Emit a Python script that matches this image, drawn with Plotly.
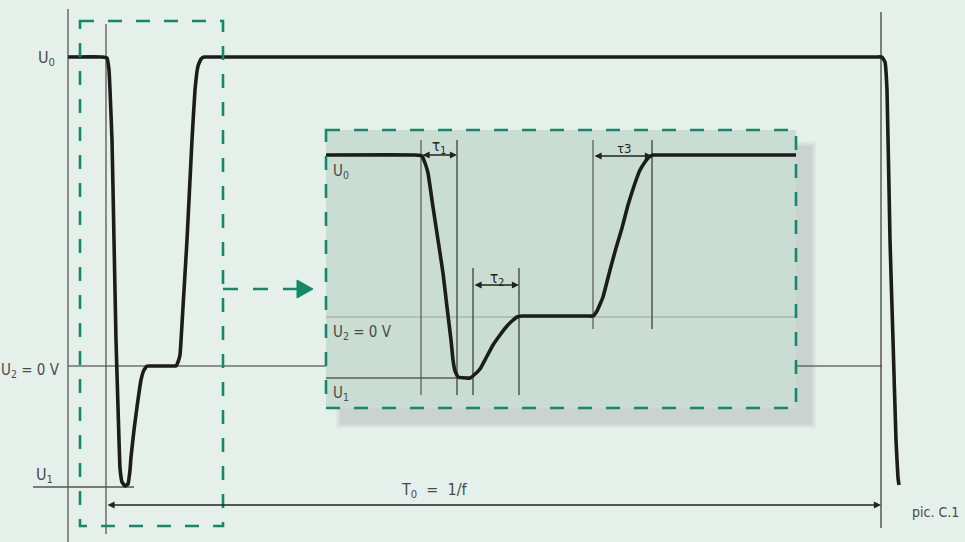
import plotly.graph_objects as go

# ---------------- data (diagram units = pixels of the 965x542 canvas) ----------------
main_x = [68, 102, 107, 109, 110, 112, 114, 116, 118, 119, 120, 122, 125, 128, 130, 131, 134,
          137, 141, 144, 147, 152, 171, 176, 178, 180, 183, 187, 192, 195, 198, 201, 204, 210,
          876, 882, 885, 887, 890, 893, 896, 898, 899]
main_y = [57, 57, 58, 70, 90, 140, 240, 340, 407, 440, 468, 482, 486, 484, 470, 457, 430,
          407, 380, 370, 366, 366, 366, 366, 362, 355, 307, 240, 140, 90, 66, 59, 57, 57,
          57, 57, 62, 90, 240, 340, 440, 478, 485]

inset_x = [326, 415, 422, 425, 428, 433, 438, 443, 447, 451, 453, 455, 458, 466, 470, 474,
           480, 486, 493, 500, 507, 512, 517, 522, 528, 587, 593, 597, 603, 610, 616, 622, 628,
           634, 640, 645, 649, 653, 659, 796]
inset_y = [155, 155, 156, 163, 173, 207, 240, 273, 307, 340, 360, 371, 377, 378, 378, 375,
           369, 358, 345, 335, 326, 321, 317, 316, 316, 316, 316, 311, 297, 270, 248, 228, 205,
           186, 170, 162, 157, 155, 155, 155]

levels = {"U0": 57, "U2": 366, "U1": 487}
inset_levels = {"U0": 155, "U2": 317, "U1": 378}

labels_main = ["U<sub>0</sub>", "U<sub>2</sub> = 0 V", "U<sub>1</sub>"]
labels_inset = ["U<sub>0</sub>", "U<sub>2</sub> = 0 V", "U<sub>1</sub>"]
tau_labels = ["τ<sub>1</sub>", "τ<sub>2</sub>", "τ3"]
period_label = "T<sub>0</sub>  =  1/f"
caption = "pic. C.1"

# ---------------- style ----------------
BG = "#e6f0eb"
INSET = "#c9ddd2"
GREEN = "#12896b"
CURVE = "#1c1c1c"
TXT = "#4a4a4a"
FONT = "DejaVu Sans Condensed, Liberation Sans Narrow, Liberation Sans, sans-serif"

fig = go.Figure()
shapes = []

def line(x0, y0, x1, y1, color="#555555", width=1.2, dash="solid", layer="above"):
    shapes.append(dict(type="line", x0=x0, y0=y0, x1=x1, y1=y1, xref="x", yref="y",
                       line=dict(color=color, width=width, dash=dash), layer=layer))

# shadow of inset (soft, layered)
for i, op in enumerate([0.05, 0.06, 0.07, 0.08, 0.09, 0.10]):
    d = 5 - i
    shapes.append(dict(type="rect", x0=340 - d, y0=146 - d, x1=812 + d, y1=424 + d,
                       xref="x", yref="y", fillcolor=f"rgba(165,170,170,{op})",
                       line=dict(width=0), layer="below"))
# thin main line under the inset
line(68, levels["U2"], 882, levels["U2"], color="#333333", width=1.1, layer="below")
# inset panel
shapes.append(dict(type="rect", x0=326, y0=130, x1=796, y1=408, xref="x", yref="y",
                   fillcolor=INSET, line=dict(width=0), layer="below"))

# main axes / markers
line(68, 9, 68, 542, color="#555555", width=1.3, layer="below")
line(106, 24, 106, 534, color="#555555", width=1.3, layer="below")
line(881, 12, 881, 528, color="#333333", width=1.2, layer="below")
line(33, levels["U1"], 134, levels["U1"], color="#555555", width=1.3, layer="below")

# inset thin lines
line(326, inset_levels["U2"], 796, inset_levels["U2"], color="#a9b5b0", width=1.5, layer="below")
line(326, inset_levels["U1"], 456, inset_levels["U1"], color="#222222", width=1.2, layer="below")
line(421, 140, 421, 395, color="#555555", width=1.2, layer="below")
line(457, 140, 457, 395, color="#333333", width=1.2, layer="below")
line(473, 268, 473, 395, color="#333333", width=1.2, layer="below")
line(519, 268, 519, 395, color="#333333", width=1.2, layer="below")
line(593, 140, 593, 329, color="#555555", width=1.2, layer="below")
line(652, 140, 652, 329, color="#333333", width=1.2, layer="below")

# dashed green boxes and arrow
shapes.append(dict(type="rect", x0=80, y0=21, x1=223, y1=526, xref="x", yref="y",
                   line=dict(color=GREEN, width=2.6, dash="14px,14px"), layer="above"))
shapes.append(dict(type="rect", x0=326, y0=130, x1=796, y1=408, xref="x", yref="y",
                   line=dict(color=GREEN, width=2.6, dash="14px,14px"), layer="above"))
line(223, 289, 298, 289, color=GREEN, width=2.6, dash="15px,15px")
shapes.append(dict(type="path", path="M 297 280 L 313 289 L 297 298 Z", xref="x", yref="y",
                   fillcolor=GREEN, line=dict(color=GREEN, width=1)))

# curves
fig.add_trace(go.Scatter(x=main_x, y=main_y, mode="lines",
                         line=dict(color=CURVE, width=3.6, shape="spline", smoothing=0.3),
                         hoverinfo="skip", showlegend=False))
fig.add_trace(go.Scatter(x=inset_x, y=inset_y, mode="lines",
                         line=dict(color=CURVE, width=3.6, shape="spline", smoothing=0.3),
                         hoverinfo="skip", showlegend=False))

annotations = []

def darrow(x0, x1, y, color="#222222"):
    annotations.append(dict(x=x1, y=y, ax=x0, ay=y, xref="x", yref="y", axref="x", ayref="y",
                            text="", showarrow=True, arrowhead=2, startarrowhead=2,
                            arrowside="end+start", arrowsize=1.1, startarrowsize=1.1,
                            arrowwidth=1.3, arrowcolor=color, standoff=0, startstandoff=0))

darrow(106, 881, 505)
darrow(421, 457, 155)
darrow(473, 519, 285)
darrow(593, 652, 156)

def text(x, y, s, size=16, anchor="left", color=TXT):
    annotations.append(dict(x=x, y=y, xref="x", yref="y", text=s, showarrow=False,
                            xanchor=anchor, yanchor="middle",
                            font=dict(family=FONT, size=size, color=color)))

text(57, 58, labels_main[0], anchor="right")
text(62, 370, labels_main[1], size=15, anchor="right")
text(55, 475, labels_main[2], anchor="right")
text(331, 171, labels_inset[0], size=15)
text(331, 332, labels_inset[1], size=15)
text(331, 393, labels_inset[2], size=15)
text(439, 146, tau_labels[0], size=15, anchor="center", color="#222222")
text(497, 278, tau_labels[1], size=15, anchor="center", color="#222222")
text(624, 148, tau_labels[2], size=13, anchor="center", color="#222222")
text(434, 490, period_label, size=16, anchor="center")
text(961, 512, caption, size=14, anchor="right")

fig.update_layout(
    width=965, height=542, margin=dict(l=0, r=0, t=0, b=0),
    paper_bgcolor=BG, plot_bgcolor=BG,
    xaxis=dict(range=[0, 965], visible=False, fixedrange=True),
    yaxis=dict(range=[542, 0], visible=False, fixedrange=True),
    shapes=shapes, annotations=annotations, showlegend=False,
)
fig.write_html("out.html", config={"displayModeBar": False},
               post_script="document.body.style.margin='0';document.body.style.background='%s';" % BG)
